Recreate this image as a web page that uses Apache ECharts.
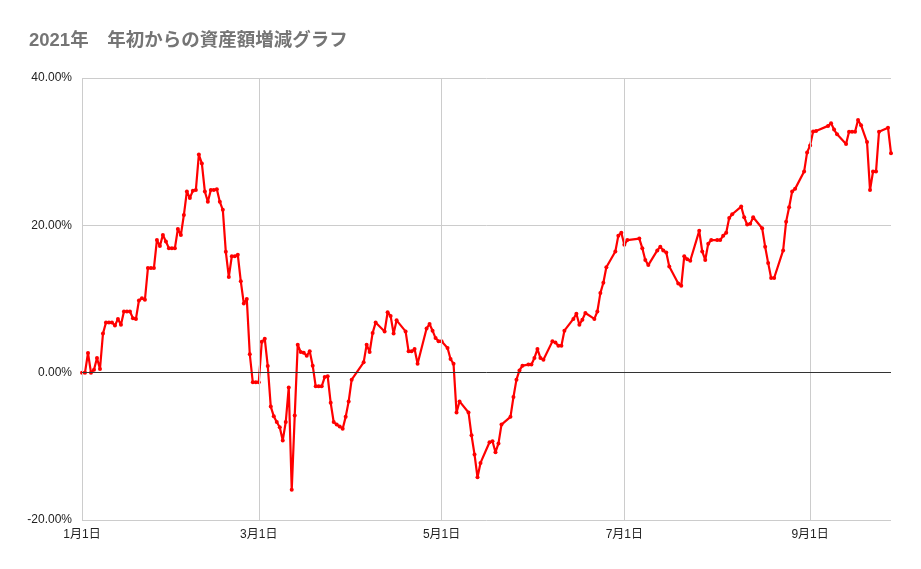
<!DOCTYPE html>
<html>
<head>
<meta charset="utf-8">
<script src="https://cdn.jsdelivr.net/npm/echarts@6/dist/echarts.min.js"></script>
<style>
html,body{margin:0;padding:0;background:#fff;}
#chart{width:921px;height:569px;}
</style>
</head>
<body>
<div id="chart"></div>
<script>
const titleText = '2021年　年初からの資産額増減グラフ';
const dates = [
'2021-01-01','2021-01-02','2021-01-03','2021-01-04','2021-01-05','2021-01-06','2021-01-07','2021-01-08','2021-01-09','2021-01-10',
'2021-01-11','2021-01-12','2021-01-13','2021-01-14','2021-01-15','2021-01-16','2021-01-17','2021-01-18','2021-01-19','2021-01-20',
'2021-01-21','2021-01-22','2021-01-23','2021-01-24','2021-01-25','2021-01-26','2021-01-27','2021-01-28','2021-01-29','2021-01-30',
'2021-01-31','2021-02-01','2021-02-02','2021-02-03','2021-02-04','2021-02-05','2021-02-06','2021-02-07','2021-02-08','2021-02-09',
'2021-02-10','2021-02-11','2021-02-12','2021-02-13','2021-02-14','2021-02-15','2021-02-16','2021-02-17','2021-02-18','2021-02-19',
'2021-02-20','2021-02-21','2021-02-22','2021-02-23','2021-02-24','2021-02-25','2021-02-26','2021-02-27','2021-02-28','2021-03-01',
'2021-03-02','2021-03-03','2021-03-04','2021-03-05','2021-03-06','2021-03-07','2021-03-08','2021-03-09','2021-03-10','2021-03-11',
'2021-03-12','2021-03-13','2021-03-14','2021-03-15','2021-03-16','2021-03-17','2021-03-18','2021-03-19','2021-03-20','2021-03-21',
'2021-03-22','2021-03-23','2021-03-24','2021-03-25','2021-03-26','2021-03-27','2021-03-28','2021-03-29','2021-03-30','2021-03-31',
'2021-04-01','2021-04-05','2021-04-06','2021-04-07','2021-04-08','2021-04-09','2021-04-12','2021-04-13','2021-04-14','2021-04-15',
'2021-04-16','2021-04-19','2021-04-20','2021-04-21','2021-04-22','2021-04-23','2021-04-26','2021-04-27','2021-04-28','2021-04-29',
'2021-04-30','2021-05-01','2021-05-03','2021-05-04','2021-05-05','2021-05-06','2021-05-07','2021-05-10','2021-05-11','2021-05-12',
'2021-05-13','2021-05-14','2021-05-17','2021-05-18','2021-05-19','2021-05-20','2021-05-21','2021-05-24','2021-05-25','2021-05-26',
'2021-05-27','2021-05-28','2021-05-30','2021-05-31','2021-06-01','2021-06-02','2021-06-03','2021-06-04','2021-06-07','2021-06-08',
'2021-06-09','2021-06-10','2021-06-11','2021-06-14','2021-06-15','2021-06-16','2021-06-17','2021-06-18','2021-06-21','2021-06-22',
'2021-06-23','2021-06-24','2021-06-25','2021-06-28','2021-06-29','2021-06-30','2021-07-01','2021-07-02','2021-07-06','2021-07-07',
'2021-07-08','2021-07-09','2021-07-12','2021-07-13','2021-07-14','2021-07-15','2021-07-16','2021-07-19','2021-07-20','2021-07-21',
'2021-07-22','2021-07-23','2021-07-26','2021-07-27','2021-07-28','2021-07-29','2021-07-30','2021-08-01','2021-08-02','2021-08-03',
'2021-08-04','2021-08-05','2021-08-06','2021-08-09','2021-08-10','2021-08-11','2021-08-12','2021-08-13','2021-08-16','2021-08-17',
'2021-08-18','2021-08-19','2021-08-20','2021-08-23','2021-08-24','2021-08-25','2021-08-26','2021-08-27','2021-08-30','2021-08-31',
'2021-09-01','2021-09-02','2021-09-03','2021-09-07','2021-09-08','2021-09-09','2021-09-10','2021-09-13','2021-09-14','2021-09-15',
'2021-09-16','2021-09-17','2021-09-18','2021-09-20','2021-09-21','2021-09-22','2021-09-23','2021-09-24','2021-09-27','2021-09-28'
];
const changePct = [
0.0,0.0,2.67,0.0,0.4,2.0,0.5,5.3,6.8,6.8,
6.8,6.4,7.3,6.5,8.3,8.3,8.3,7.4,7.3,9.8,
10.1,9.9,14.2,14.2,14.2,18.0,17.2,18.7,17.8,16.9,
16.9,16.9,19.5,18.7,21.4,24.6,23.7,24.7,24.8,29.6,
28.4,24.6,23.2,24.8,24.8,24.9,23.2,22.1,16.4,13.0,
15.8,15.8,16.0,12.4,9.4,10.0,2.5,-1.3,-1.3,-1.3,
4.2,4.6,0.9,-4.6,-5.9,-6.7,-7.4,-9.2,-6.7,-2.0,
-15.9,-5.8,3.8,2.8,2.7,2.3,2.9,0.95,-1.85,-1.85,
-1.85,-0.6,-0.5,-4.1,-6.7,-7.05,-7.3,-7.6,-6.0,-3.9,
-0.95,1.4,3.8,2.8,5.4,6.8,5.6,8.2,7.7,5.3,
7.1,5.6,2.9,2.9,3.2,1.2,6.0,6.6,5.7,4.7,
4.25,4.25,3.35,1.85,1.2,-5.4,-3.9,-5.4,-8.5,-11.1,
-14.2,-12.25,-9.45,-9.3,-10.8,-9.6,-7.05,-6.0,-3.3,-0.95,
0.3,0.95,1.1,1.1,2.0,3.2,2.0,1.75,4.25,4.1,
3.65,3.65,5.7,7.3,8.0,6.5,7.2,8.1,7.3,8.3,
10.8,12.2,14.3,16.45,18.6,19.0,17.35,18.0,18.2,16.9,
15.3,14.6,16.6,17.1,16.6,16.3,14.4,12.1,11.8,15.8,
15.4,15.2,19.25,16.45,15.3,17.5,18.0,18.0,18.0,18.6,
19.0,21.0,21.5,22.55,21.1,20.1,20.2,21.1,19.6,17.1,
14.9,12.85,12.85,16.6,20.5,22.45,24.6,24.95,27.3,29.9,
30.85,32.75,32.8,33.5,33.85,33.0,32.35,31.05,32.7,32.7,
32.7,34.3,33.6,31.3,24.8,27.3,27.3,32.7,33.25,29.8
];
const xTickDates = ['2021-01-01','2021-03-01','2021-05-01','2021-07-01','2021-09-01'];
const yMin = -20, yMax = 40, yStep = 20;
const xStart = '2021-01-01', xEnd = '2021-09-28';

function ts(s) { return new Date(s + 'T00:00:00').getTime(); }
const seriesData = dates.map((d, i) => [ts(d), changePct[i]]);
const tickTs = xTickDates.map(ts);
const fontFam = '"Liberation Sans", Arial, "Noto Sans CJK JP", sans-serif';

const chart = echarts.init(document.getElementById('chart'), null, {renderer: 'canvas'});
chart.setOption({
  animation: false,
  backgroundColor: '#ffffff',
  title: {
    text: titleText,
    left: 29,
    top: 32,
    padding: 0,
    textStyle: {
      fontFamily: '"Liberation Sans", Arial, "Noto Sans CJK JP", sans-serif',
      fontSize: 18.5,
      fontWeight: 'bold',
      color: '#757575'
    }
  },
  grid: {left: 82, right: 30, top: 78, bottom: 49, containLabel: false},
  xAxis: {
    type: 'value',
    min: ts(xStart),
    max: ts(xEnd),
    axisLine: {show: false},
    axisTick: {show: false},
    splitLine: {show: false},
    axisLabel: {
      customValues: tickTs,
      formatter: function (v) {
        const d = new Date(v);
        return (d.getMonth() + 1) + '月' + d.getDate() + '日';
      },
      color: '#222',
      fontSize: 12,
      fontFamily: fontFam,
      margin: 9,
      hideOverlap: false
    }
  },
  yAxis: {
    type: 'value',
    min: yMin,
    max: yMax,
    interval: yStep,
    axisLine: {show: false},
    axisTick: {show: false},
    splitLine: {show: true, lineStyle: {color: '#cccccc', width: 1}},
    axisLabel: {
      formatter: v => v.toFixed(2) + '%',
      color: '#222',
      fontSize: 12,
      fontFamily: fontFam,
      margin: 10
    }
  },
  series: [
    {
      type: 'line',
      data: [],
      silent: true,
      z: 1,
      markLine: {
        silent: true,
        symbol: ['none', 'none'],
        label: {show: false},
        animation: false,
        data: tickTs.map(t => ({xAxis: t, lineStyle: {color: '#cccccc', width: 1, type: 'solid'}}))
          .concat([{yAxis: 0, lineStyle: {color: '#333333', width: 1, type: 'solid'}}])
      }
    },
    {
      type: 'line',
      data: seriesData,
      z: 3,
      showSymbol: true,
      symbol: 'circle',
      symbolSize: 4,
      itemStyle: {color: '#ff0000'},
      lineStyle: {color: '#ff0000', width: 2.2},
      emphasis: {disabled: true}
    }
  ]
});
</script>
</body>
</html>
